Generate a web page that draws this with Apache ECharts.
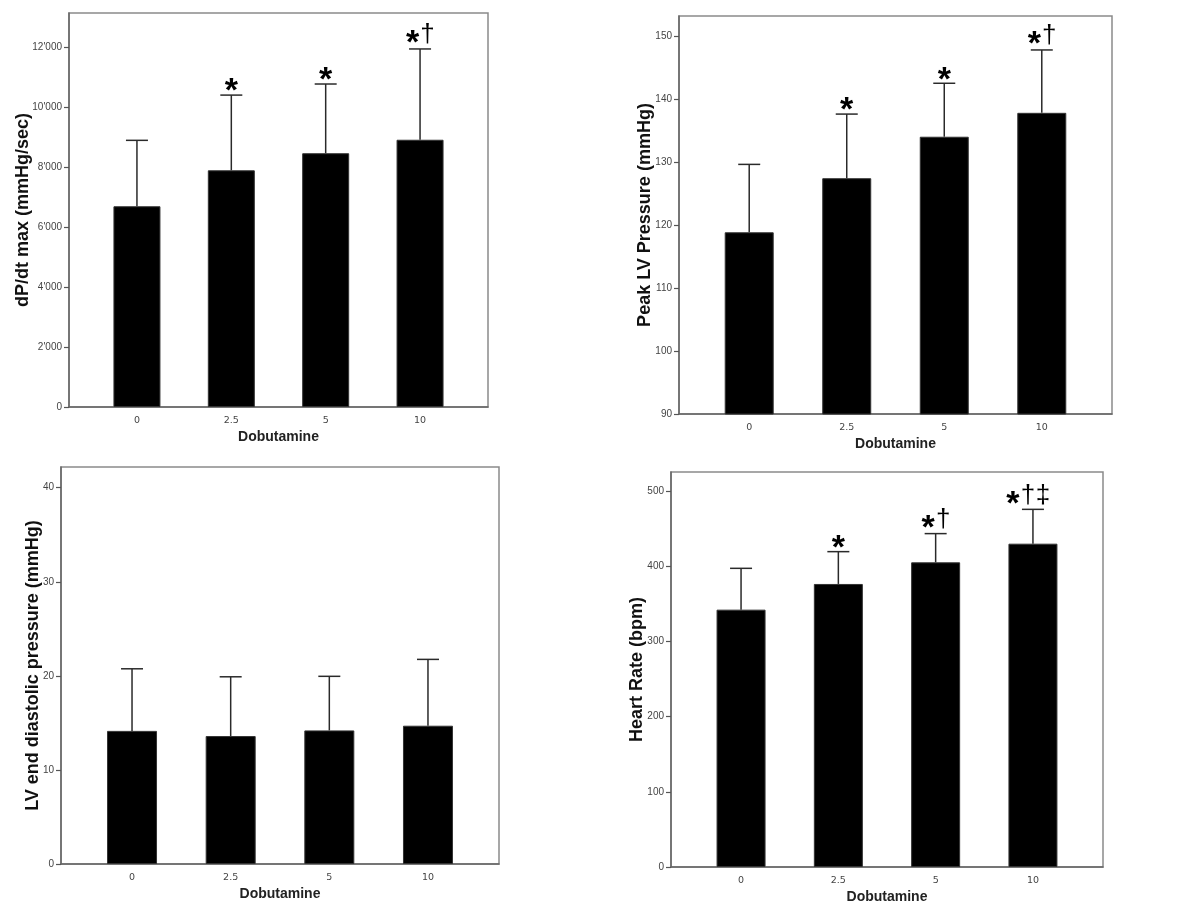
<!DOCTYPE html>
<html><head><meta charset="utf-8">
<script src="https://cdn.jsdelivr.net/npm/echarts@6/dist/echarts.min.js"></script>
<style>html,body{margin:0;padding:0;background:#fff}#c{width:1200px;height:915px}</style>
</head><body><div id="c"></div>
<script>
const categories = ['0', '2.5', '5', '10'];

const dpdtMean  = [6700, 7900, 8470, 8920];
const dpdtUpper = [8900, 10410, 10780, 11950];
const dpdtMarks = ['', '*', '*', '*†'];
const dpdtTicks = [0, 2000, 4000, 6000, 8000, 10000, 12000];

const peakMean  = [118.9, 127.5, 134.1, 137.9];
const peakUpper = [129.7, 137.7, 142.6, 147.9];
const peakMarks = ['', '*', '*', '*†'];
const peakTicks = [90, 100, 110, 120, 130, 140, 150];

const edpMean  = [14.15, 13.6, 14.2, 14.7];
const edpUpper = [20.75, 19.9, 19.95, 21.75];
const edpMarks = ['', '', '', ''];
const edpTicks = [0, 10, 20, 30, 40];

const hrMean  = [342.5, 376.7, 405.5, 430.3];
const hrUpper = [397.5, 419.7, 443.7, 476];
const hrMarks = ['', '*', '*†', '*†‡'];
const hrTicks = [0, 100, 200, 300, 400, 500];

const xTitle = 'Dobutamine';
const thousands = v => String(v).replace(/\B(?=(\d{3})+(?!\d))/g, "'");

const panels = [
  {grid: {left: 69, top: 13, width: 419, height: 394}, min: 0, max: 13150, ticks: dpdtTicks,
   name: 'dP/dt max (mmHg/sec)', nameGap: 37, mean: dpdtMean, upper: dpdtUpper, marks: dpdtMarks, barWidth: 47, fmt: thousands},
  {grid: {left: 679, top: 16, width: 433, height: 398}, min: 90, max: 153.3, ticks: peakTicks,
   name: 'Peak LV Pressure (mmHg)', nameGap: 25, mean: peakMean, upper: peakUpper, marks: peakMarks, barWidth: 49, fmt: v => String(v)},
  {grid: {left: 61, top: 467, width: 438, height: 397}, min: 0, max: 42.2, ticks: edpTicks,
   name: 'LV end diastolic pressure (mmHg)', nameGap: 19, mean: edpMean, upper: edpUpper, marks: edpMarks, barWidth: 50, fmt: v => String(v)},
  {grid: {left: 671, top: 472, width: 432, height: 395}, min: 0, max: 525.7, ticks: hrTicks,
   name: 'Heart Rate (bpm)', nameGap: 25, mean: hrMean, upper: hrUpper, marks: hrMarks, barWidth: 49, fmt: v => String(v)}
];

function errRender(marks) {
  return function (params, api) {
    const i = params.dataIndex;
    const x = api.value(0);
    const p0 = api.coord([x, api.value(1)]);
    const p1 = api.coord([x, api.value(2)]);
    const cap = 11;
    const stroke = {stroke: '#2a2a2a', lineWidth: 1.5};
    const children = [
      {type: 'line', shape: {x1: p0[0], y1: p0[1], x2: p1[0], y2: p1[1]}, style: stroke},
      {type: 'line', shape: {x1: p1[0] - cap, y1: p1[1], x2: p1[0] + cap, y2: p1[1]}, style: stroke}
    ];
    const glyphs = Array.from(marks[i] || '');
    if (glyphs.length) {
      const adv = 15;
      const total = adv * glyphs.length;
      const shift = glyphs.length === 3 ? -5 : 0;
      let cx = p1[0] + shift - total / 2 + adv / 2;
      glyphs.forEach(g => {
        if (g === '*') {
          children.push({type: 'text', x: cx, y: p1[1] - (glyphs.length > 1 ? 5 : 3),
            style: {text: '*', font: 'bold 34px "Liberation Sans", Arial, sans-serif', fill: '#000',
                    align: 'center', verticalAlign: 'middle'}});
        } else {
          children.push({type: 'text', x: cx, y: p1[1] - 1,
            style: {text: g, font: '26px "Liberation Sans", Arial, sans-serif', fill: '#000',
                    align: 'center', verticalAlign: 'bottom'}});
        }
        cx += adv;
      });
    }
    return {type: 'group', children};
  };
}

const option = {
  backgroundColor: '#fff',
  animation: false,
  grid: [], xAxis: [], yAxis: [], series: []
};

panels.forEach((p, k) => {
  option.grid.push(Object.assign({show: true, borderColor: '#8a8a8a', borderWidth: 1.5, backgroundColor: '#fff'}, p.grid));
  option.xAxis.push({
    type: 'value', gridIndex: k, min: -0.72, max: 3.72,
    name: xTitle, nameLocation: 'middle', nameGap: 23, nameMoveOverlap: false,
    nameTextStyle: {fontFamily: '"Liberation Sans", Arial, sans-serif', fontWeight: 'bold', fontSize: 14, color: '#222'},
    axisLine: {show: true, onZero: false, lineStyle: {color: '#666', width: 1.5}},
    axisTick: {show: false},
    splitLine: {show: false},
    axisLabel: {customValues: [0, 1, 2, 3], formatter: v => categories[Math.round(v)],
      margin: 9, fontFamily: '"DejaVu Sans", sans-serif', fontSize: 9.5, color: '#444'}
  });
  option.yAxis.push({
    type: 'value', gridIndex: k, min: p.min, max: p.max,
    name: p.name, nameLocation: 'middle', nameGap: p.nameGap, nameRotate: 90, nameMoveOverlap: false,
    nameTextStyle: {fontFamily: '"Liberation Sans", Arial, sans-serif', fontWeight: 'bold', fontSize: 18, color: '#111'},
    axisLine: {show: true, onZero: false, lineStyle: {color: '#666', width: 1.5}},
    axisTick: {show: true, inside: false, length: 5, customValues: p.ticks, lineStyle: {color: '#555', width: 1.2}},
    splitLine: {show: false},
    axisLabel: {customValues: p.ticks, formatter: p.fmt, margin: 7,
      fontFamily: '"Liberation Sans", Arial, sans-serif', fontSize: 10, color: '#444'}
  });
  option.series.push({
    type: 'bar', xAxisIndex: k, yAxisIndex: k, barWidth: p.barWidth, clip: true,
    itemStyle: {color: '#000', borderColor: '#333', borderWidth: 1},
    data: categories.map((c, i) => [i, p.mean[i]])
  });
  option.series.push({
    type: 'custom', xAxisIndex: k, yAxisIndex: k, clip: false, z: 5,
    renderItem: errRender(p.marks),
    data: categories.map((c, i) => [i, p.mean[i], p.upper[i]])
  });
});

const chart = echarts.init(document.getElementById('c'), null, {renderer: 'canvas'});
chart.setOption(option);
</script>
</body></html>
